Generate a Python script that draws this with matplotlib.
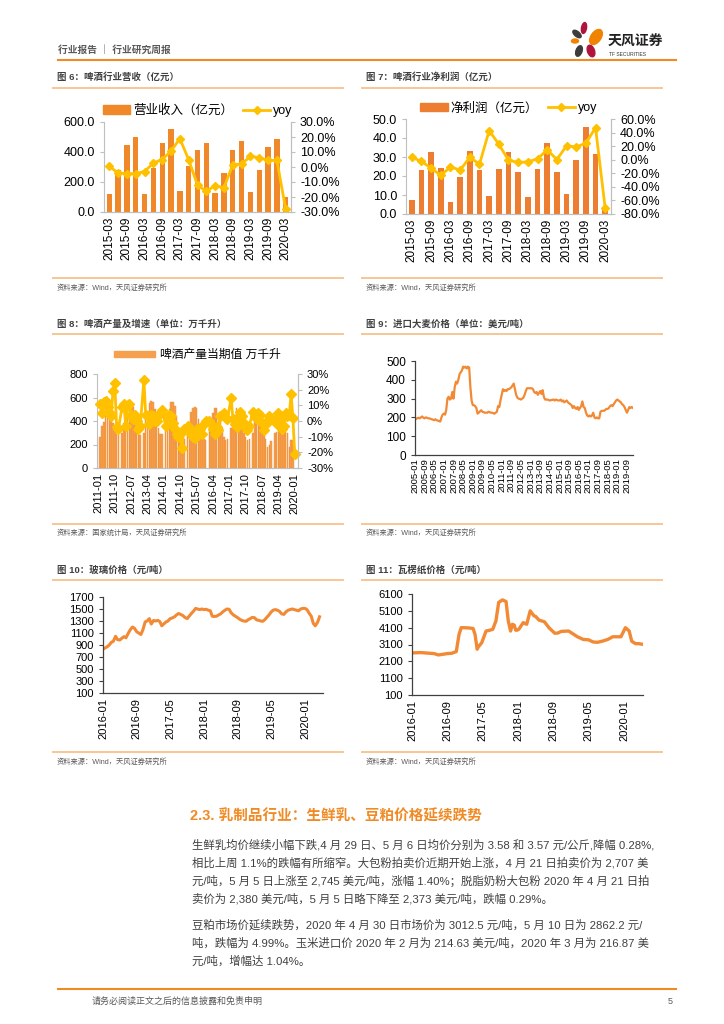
import numpy as np
import pandas as pd
import matplotlib
matplotlib.use("Agg")
import matplotlib.pyplot as plt
from matplotlib.patches import Ellipse, Patch
from matplotlib.lines import Line2D
import matplotlib.dates as mdates
from matplotlib.ticker import FuncFormatter

plt.rcParams['font.family'] = ['Liberation Sans', 'Noto Sans CJK SC', 'DejaVu Sans']
plt.rcParams['axes.unicode_minus'] = False

W, H = 724, 1024

# ---------------- data ----------------
quarters = ['2015-03', '2015-06', '2015-09', '2015-12', '2016-03', '2016-06', '2016-09',
            '2016-12', '2017-03', '2017-06', '2017-09', '2017-12', '2018-03', '2018-06',
            '2018-09', '2018-12', '2019-03', '2019-06', '2019-09', '2019-12', '2020-03']
revenue = [120, 282, 444, 502, 118, 291, 462, 553, 142, 304, 411, 462,
           124, 262, 413, 471, 133, 278, 431, 487, 100]
revenue_yoy = [0.4, -4.0, -4.4, -4.4, -3.0, 2.7, 4.9, 10.7, 18.9, 4.9, -12.2, -16.2,
               -12.4, -13.8, 1.6, 2.0, 7.1, 6.2, 4.4, 4.4, -28.2]
profit = [7.3, 23.1, 32.5, 24.3, 6.5, 19.4, 33.4, 22.9, 9.3, 23.6, 32.7, 21.9,
          8.9, 23.8, 37.2, 21.9, 10.7, 28.2, 46.0, 31.6, 3.0]
profit_yoy = [3.7, -2.6, -12.4, -23.2, -10.5, -15.4, 3.7, -6.6, 42.9, 22.8, -0.7, -4.1,
              -3.1, 1.3, 14.5, 0.3, 20.4, 18.9, 24.3, 47.2, -71.7]

# beer output, monthly 2011-01 .. 2020-02 (Jan not published)
nan = np.nan
beer_output = [
    nan, 260, 360, 390, 470, 500, 510, 480, 380, 320, 290, 280,   # 2011
    nan, 300, 380, 420, 500, 520, 550, 520, 430, 350, 290, 280,   # 2012
    nan, 300, 420, 470, 550, 570, 560, 500, 420, 340, 290, 290,   # 2013
    nan, 320, 420, 500, 560, 560, 530, 440, 330, 260, 230, 250,   # 2014
    nan, 320, 380, 480, 510, 520, 510, 420, 320, 260, 250, 240,   # 2015
    nan, 338, 380, 465, 508, 508, 470, 423, 340, 267, 238, 250,   # 2016
    nan, 338, 366, 451, 508, 480, 451, 380, 295, 260, 238, 250,   # 2017
    nan, 300, 394, 451, 440, 408, 380, 309, 250, 182, 196, 230,   # 2018
    nan, 295, 309, 323, 394, 420, 400, 350, 300, 182, 238, 240,   # 2019
    nan, nan]                                                     # 2020
beer_yoy = [
    nan, 11, 5, 12, 13, 9, 6, 3, 19, 24, -4, -5,
    nan, 9, 11, -3, 10, 11, 4, 1, 4, 0, -5, -3,
    nan, 26, 4, 3, -2, 4, 3, 0, 0, 3, 5, 7,
    nan, -3, 3, 4, 3, -1, -5, -8, -10, -8, -17, -5,
    nan, -3, -5, -8, -10, -11, -5, -7, -5, -8, -2, 0,
    nan, 0, -2, -5, -8, -4, -6, 3, 4, 5, 2, 1,
    nan, 15, 1, -2, -4, 2, 6, 3, -1, -4, -6, -3,
    nan, 6, 3, 1, 5, 4, -1, -6, -2, 0, 3, 2,
    nan, 0, -2, 5, 2, -5, -3, 5, 3, 4, 17, 2,
    -21, nan]
beer_ticks = ['2011-01', '2011-10', '2012-07', '2013-04', '2014-01', '2014-10', '2015-07',
              '2016-04', '2017-01', '2017-10', '2018-07', '2019-04', '2020-01']

# imported barley price, monthly 2005-01 .. 2020-02
barley = [
    195, 192, 196, 198, 195, 200, 205, 198, 195, 200, 198, 195,   # 2005
    195, 192, 190, 188, 185, 190, 185, 183, 180, 178, 200, 215,   # 2006
    220, 215, 240, 300, 310, 295, 300, 335, 300, 360, 390, 380,   # 2007
    400, 430, 440, 450, 470, 465, 470, 460, 470, 465, 360, 290,   # 2008
    265, 265, 260, 250, 220, 225, 232, 238, 230, 228, 225, 225,   # 2009
    225, 230, 228, 225, 225, 222, 220, 225, 230, 260, 255, 290,   # 2010
    320, 350, 340, 345, 340, 350, 350, 355, 360, 370, 380, 350,   # 2011
    320, 305, 300, 298, 295, 300, 305, 320, 340, 355, 355, 355,   # 2012
    355, 355, 350, 335, 330, 335, 320, 330, 340, 325, 345, 310,   # 2013
    295, 295, 295, 292, 290, 292, 293, 295, 290, 295, 292, 290,   # 2014
    290, 295, 285, 290, 280, 285, 290, 280, 275, 270, 265, 250,   # 2015
    260, 250, 245, 255, 240, 250, 260, 285, 255, 250, 225, 210,   # 2016
    205, 210, 205, 210, 225, 200, 195, 200, 195, 195, 230, 235,   # 2017
    235, 235, 240, 245, 245, 250, 260, 265, 260, 270, 280, 290,   # 2018
    295, 290, 285, 280, 270, 265, 255, 240, 225, 240, 255, 250,   # 2019
    255, 250]                                                     # 2020

# float glass price, twice a month 2016-01 .. 2020-04
glass = [
    828, 850, 872, 900, 944, 960, 1045, 990, 983, 1010, 1040, 1020,
    1093, 1150, 1200, 1180, 1120, 1100, 1075, 1150, 1285, 1300, 1340, 1250,
    1310, 1300, 1310, 1290, 1220, 1250, 1285, 1300, 1340, 1350, 1370, 1400,
    1425, 1410, 1390, 1360, 1340, 1380, 1425, 1460, 1510, 1500, 1490, 1500,
    1490, 1495, 1480, 1470, 1380, 1375, 1380, 1400, 1420, 1450, 1480, 1500,
    1495, 1440, 1400, 1380, 1355, 1330, 1310, 1300, 1295, 1320, 1340, 1360,
    1355, 1320, 1310, 1300, 1295, 1320, 1365, 1400, 1450, 1480, 1490, 1480,
    1460, 1420, 1410, 1450, 1480, 1490, 1500, 1490, 1480, 1470, 1500, 1510,
    1510, 1490, 1425, 1380, 1260, 1220, 1280, 1370]

# corrugated paper price
paper_dates = ['2016-01-01', '2016-02-01', '2016-03-01', '2016-04-01', '2016-05-01', '2016-06-01',
               '2016-07-01', '2016-08-01', '2016-09-01', '2016-10-01', '2016-11-01', '2016-11-20',
               '2016-12-05', '2016-12-20', '2017-01-10', '2017-02-01', '2017-02-25', '2017-03-10',
               '2017-03-25', '2017-04-01', '2017-04-25', '2017-05-25', '2017-06-20', '2017-07-10',
               '2017-08-01', '2017-08-20', '2017-09-15', '2017-10-10', '2017-10-25', '2017-11-10',
               '2017-11-22', '2017-12-05', '2017-12-15', '2017-12-25', '2018-01-05', '2018-02-05',
               '2018-03-01', '2018-03-25', '2018-04-20', '2018-05-01', '2018-05-25', '2018-07-01',
               '2018-08-01', '2018-09-10', '2018-10-01', '2018-10-25', '2018-12-15', '2019-02-15',
               '2019-03-01', '2019-03-25', '2019-05-01', '2019-06-01', '2019-07-01', '2019-08-05',
               '2019-09-10', '2019-10-15', '2019-11-20', '2019-12-10', '2020-01-10', '2020-02-05',
               '2020-02-22', '2020-03-01', '2020-03-20', '2020-04-10', '2020-05-01']
paper_vals = [2600, 2610, 2620, 2600, 2580, 2560, 2480, 2520, 2560, 2580, 2680, 3700,
              4100, 4100, 4090, 4080, 4050, 3700, 2820, 2950, 3200, 3900, 3950, 4000,
              4500, 5600, 5750, 5650, 4500, 3900, 4300, 4250, 3950, 3950, 4000, 4400,
              4300, 5100, 4800, 4770, 4550, 4450, 4100, 3770, 3780, 3880, 3900, 3550,
              3500, 3400, 3380, 3250, 3230, 3300, 3400, 3560, 3560, 3560, 4100, 3900,
              3300, 3250, 3150, 3150, 3120]
paper_vals = paper_vals[:len(paper_dates)]

ORANGE = '#F0882A'
YOY = '#FFC000'
LINE = '#F28A35'
RULE = '#F8C695'
TXT = '#404040'


def px_axes(x0, y0, x1, y1):
    return fig.add_axes([x0 / W, 1 - y1 / H, (x1 - x0) / W, (y1 - y0) / H])


def hline(x0, x1, y, color, lw):
    fig.add_artist(Line2D([x0 / W, x1 / W], [1 - y / H, 1 - y / H], color=color, lw=lw))


def ftext(x, y, s, **kw):
    kw.setdefault('va', 'center')
    fig.text(x / W, 1 - y / H, s, **kw)


def panel(x0, x1, y_title, y_rule, y_bottom, y_src, title, src):
    ftext(x0 + 4, y_title, title, fontsize=6.8, color=TXT, fontweight='bold')
    hline(x0, x1, y_rule, RULE, 1.4)
    hline(x0, x1, y_bottom, RULE, 1.4)
    ftext(x0 + 4, y_src, src, fontsize=5.2, color='#595959')


def light_axes(ax):
    for s in ['left', 'right', 'bottom']:
        ax.spines[s].set_color('#BFBFBF')
    ax.spines['top'].set_visible(False)
    ax.tick_params(colors='#BFBFBF', labelcolor='black', labelsize=9, length=3)


def dark_axes(ax):
    ax.spines['top'].set_visible(False)
    ax.spines['right'].set_visible(False)
    for s in ['left', 'bottom']:
        ax.spines[s].set_color('#404040')
        ax.spines[s].set_linewidth(0.9)
    ax.tick_params(colors='#404040', labelcolor='black', labelsize=8, length=3)


def bar_line_legend(ax, color, label):
    ax.legend([Patch(color=color), Line2D([], [], color=YOY, lw=2, marker='D', ms=4.5)],
              [label, 'yoy'], loc='lower center', bbox_to_anchor=(0.5, 0.97),
              ncol=2, frameon=False, fontsize=9, handlelength=2.2, handleheight=0.7,
              columnspacing=0.8, handletextpad=0.2, borderpad=0.1)


fig = plt.figure(figsize=(W / 100, H / 100), dpi=100)

# ---------------- header ----------------
ftext(58, 50, '行业报告 ｜ 行业研究周报', fontsize=7, color='#595959', fontweight='bold')
hline(58, 676, 60, '#F08A24', 1.5)
logo = px_axes(566, 20, 616, 62)
logo.set_xlim(0, 50)
logo.set_ylim(42, 0)
logo.set_aspect('equal')
logo.axis('off')
for (cx, cy, w, h, a, c) in [(18, 8, 5, 11, 10, '#B0143C'), (30, 17, 10, 17, 35, '#F08300'),
                              (11, 14, 5, 10, -50, '#3C3C3C'), (9, 21, 7, 4, 0, '#F08300'),
                              (13, 31, 6, 11, 20, '#3C3C3C'), (25, 31, 7, 12, -20, '#B0143C')]:
    logo.add_patch(Ellipse((cx, cy), w, h, angle=a, color=c))
ftext(608, 42, '天风证券', fontsize=10, color='#222222', fontweight='bold')
ftext(609, 55, 'TF SECURITIES', fontsize=3.6, color='#333333')

# ---------------- figure 6 ----------------
panel(53, 343, 77, 88, 278, 288, '图 6：啤酒行业营收（亿元）', '资料来源：Wind，天风证券研究所')
ax = px_axes(104, 122, 291, 212)
x = np.arange(len(quarters))
ax.bar(x, revenue, width=0.6, color=ORANGE)
ax.set_ylim(0, 600)
ax.set_yticks([0, 200, 400, 600])
ax.yaxis.set_major_formatter(FuncFormatter(lambda v, p: f'{v:.1f}'))
ax.set_xlim(-0.6, len(quarters) - 0.4)
ax.set_xticks(x[::2])
ax.set_xticklabels(quarters[::2], rotation=90)
light_axes(ax)
ax.tick_params(axis='x', length=0, labelsize=8.5)
ax2 = ax.twinx()
ax2.plot(x, revenue_yoy, color=YOY, lw=2, marker='D', ms=4.5)
ax2.set_ylim(-30, 30)
ax2.set_yticks(np.arange(-30, 31, 10))
ax2.yaxis.set_major_formatter(FuncFormatter(lambda v, p: f'{v:.1f}%'))
light_axes(ax2)
ax2.spines['left'].set_visible(False)
bar_line_legend(ax, ORANGE, '营业收入（亿元）')

# ---------------- figure 7 ----------------
panel(362, 662, 77, 88, 278, 288, '图 7：啤酒行业净利润（亿元）', '资料来源：Wind，天风证券研究所')
ax = px_axes(406, 119, 611, 214)
ax.bar(x, profit, width=0.6, color='#ED7D31')
ax.set_ylim(0, 50)
ax.set_yticks(np.arange(0, 51, 10))
ax.yaxis.set_major_formatter(FuncFormatter(lambda v, p: f'{v:.1f}'))
ax.set_xlim(-0.6, len(quarters) - 0.4)
ax.set_xticks(x[::2])
ax.set_xticklabels(quarters[::2], rotation=90)
light_axes(ax)
ax.tick_params(axis='x', length=0, labelsize=8.5)
ax2 = ax.twinx()
ax2.plot(x, profit_yoy, color=YOY, lw=2, marker='D', ms=4.5)
ax2.set_ylim(-80, 60)
ax2.set_yticks(np.arange(-80, 61, 20))
ax2.yaxis.set_major_formatter(FuncFormatter(lambda v, p: f'{v:.1f}%'))
light_axes(ax2)
ax2.spines['left'].set_visible(False)
bar_line_legend(ax, '#ED7D31', '净利润（亿元）')

# ---------------- figure 8 ----------------
panel(53, 343, 324, 334, 524, 533, '图 8：啤酒产量及增速（单位：万千升）', '资料来源：国家统计局，天风证券研究所')
ax = px_axes(97, 374, 298, 468)
months = pd.date_range('2011-01-01', periods=len(beer_output), freq='MS').strftime('%Y-%m')
xm = np.arange(len(months))
ax.bar(xm, beer_output, width=0.85, color='#F5A04D', edgecolor='#EE8A30', linewidth=0.3)
ax.set_ylim(0, 800)
ax.set_yticks(np.arange(0, 801, 200))
ax.set_xlim(-0.8, len(months) - 0.2)
tick_pos = [list(months).index(t) for t in beer_ticks]
ax.set_xticks(tick_pos)
ax.set_xticklabels(beer_ticks, rotation=90)
light_axes(ax)
ax.tick_params(axis='x', length=0, labelsize=8)
ax.tick_params(axis='y', labelsize=8)
ax2 = ax.twinx()
yoy_s = pd.Series(beer_yoy, index=xm).dropna()
ax2.plot(yoy_s.index, yoy_s.values, color=YOY, lw=2, marker='D', ms=5, clip_on=False)
ax2.set_ylim(-30, 30)
ax2.set_yticks(np.arange(-30, 31, 10))
ax2.yaxis.set_major_formatter(FuncFormatter(lambda v, p: f'{v:.0f}%'))
light_axes(ax2)
ax2.tick_params(labelsize=8)
ax2.spines['left'].set_visible(False)
ax.legend([Patch(color='#F5A04D')], ['啤酒产量当期值 万千升'], loc='lower center',
          bbox_to_anchor=(0.5, 1.06), frameon=False, fontsize=8.5, handlelength=3.5,
          handleheight=0.5, handletextpad=0.4, borderpad=0.1)

# ---------------- figure 9 ----------------
panel(362, 662, 324, 334, 524, 533, '图 9：进口大麦价格（单位：美元/吨）', '资料来源：Wind，天风证券研究所')
ax = px_axes(415, 361, 633, 455)
bdates = pd.date_range('2005-01-01', periods=len(barley), freq='MS')
ax.plot(bdates, barley, color=LINE, lw=1.6)
ax.set_ylim(0, 500)
ax.set_yticks(np.arange(0, 501, 100))
ax.set_xlim(bdates[0], bdates[-1])
ax.set_xticks(bdates[::8])
ax.xaxis.set_major_formatter(mdates.DateFormatter('%Y-%m'))
dark_axes(ax)
ax.tick_params(axis='x', labelsize=6.8, rotation=90, length=0, pad=2)
ax.tick_params(axis='y', labelsize=8.5)

# ---------------- figure 10 ----------------
panel(53, 343, 570, 580, 752, 762, '图 10：玻璃价格（元/吨）', '资料来源：Wind，天风证券研究所')
ax = px_axes(103, 597, 323, 693)
gdates = pd.date_range('2016-01-01', periods=len(glass), freq='SMS')
ax.plot(gdates, glass, color=LINE, lw=2.2)
ax.set_ylim(100, 1700)
ax.set_yticks(np.arange(100, 1701, 200))
ax.set_xlim(pd.Timestamp('2016-01-01'), pd.Timestamp('2020-05-10'))
ax.set_xticks(pd.date_range('2016-01-01', '2020-01-01', freq='8MS'))
ax.xaxis.set_major_formatter(mdates.DateFormatter('%Y-%m'))
dark_axes(ax)
ax.tick_params(axis='x', rotation=90, length=0)

# ---------------- figure 11 ----------------
panel(362, 662, 570, 580, 752, 762, '图 11：瓦楞纸价格（元/吨）', '资料来源：Wind，天风证券研究所')
ax = px_axes(412, 594, 643, 695)
ax.plot(pd.to_datetime(paper_dates), paper_vals, color=LINE, lw=2.4)
ax.set_ylim(100, 6100)
ax.set_yticks(np.arange(100, 6101, 1000))
ax.set_xlim(pd.Timestamp('2016-01-01'), pd.Timestamp('2020-05-10'))
ax.set_xticks(pd.date_range('2016-01-01', '2020-01-01', freq='8MS'))
ax.xaxis.set_major_formatter(mdates.DateFormatter('%Y-%m'))
dark_axes(ax)
ax.tick_params(axis='x', rotation=90, length=0)

# ---------------- text section ----------------
ftext(190, 816, '2.3. 乳制品行业：生鲜乳、豆粕价格延续跌势', fontsize=10.5,
      color='#F08A24', fontweight='bold')
para1 = ['生鲜乳均价继续小幅下跌,4 月 29 日、5 月 6 日均价分别为 3.58 和 3.57 元/公斤,降幅 0.28%,',
         '相比上周 1.1%的跌幅有所缩窄。大包粉拍卖价近期开始上涨，4 月 21 日拍卖价为 2,707 美',
         '元/吨，5 月 5 日上涨至 2,745 美元/吨，涨幅 1.40%；脱脂奶粉大包粉 2020 年 4 月 21 日拍',
         '卖价为 2,380 美元/吨，5 月 5 日略下降至 2,373 美元/吨，跌幅 0.29%。']
para2 = ['豆粕市场价延续跌势，2020 年 4 月 30 日市场价为 3012.5 元/吨，5 月 10 日为 2862.2 元/',
         '吨，跌幅为 4.99%。玉米进口价 2020 年 2 月为 214.63 美元/吨，2020 年 3 月为 216.87 美',
         '元/吨，增幅达 1.04%。']
for i, line in enumerate(para1):
    ftext(192, 845 + i * 18, line, fontsize=8.2, color=TXT)
for i, line in enumerate(para2):
    ftext(192, 925 + i * 18, line, fontsize=8.2, color=TXT)

# ---------------- footer ----------------
hline(58, 676, 989, '#F08A24', 1.5)
ftext(92, 1001, '请务必阅读正文之后的信息披露和免责申明', fontsize=6.5, color='#595959')
ftext(668, 1001, '5', fontsize=6.5, color='#595959')

fig.savefig('out.png', dpi=100)
